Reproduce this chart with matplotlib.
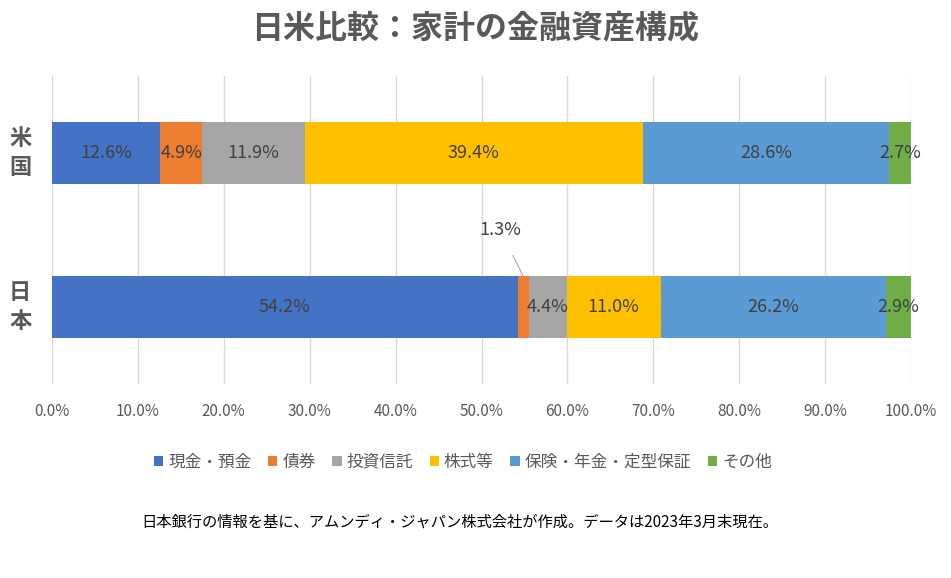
import matplotlib
matplotlib.use("Agg")
import matplotlib.pyplot as plt
from matplotlib.ticker import PercentFormatter, MultipleLocator

plt.rcParams['font.family'] = ['Noto Sans CJK JP', 'DejaVu Sans']

countries = ["米国", "日本"]
series = ["現金・預金", "債券", "投資信託", "株式等", "保険・年金・定型保証", "その他"]
us_values = [12.6, 4.9, 11.9, 39.4, 28.6, 2.7]
jp_values = [54.2, 1.3, 4.4, 11.0, 26.2, 2.9]
colors = ["#4472C4", "#ED7D31", "#A5A5A5", "#FFC000", "#5B9BD5", "#70AD47"]
title = "日米比較：家計の金融資産構成"
footnote = "日本銀行の情報を基に、アムンディ・ジャパン株式会社が作成。データは2023年3月末現在。"

fig = plt.figure(figsize=(9.51, 5.78), dpi=100)
ax = fig.add_axes([52/951, 1-384/578, 859/951, 308/578])

ypos = [0, 1]
data = [us_values, jp_values]
left = [0.0, 0.0]
for i, s in enumerate(series):
    vals = [data[0][i]/100, data[1][i]/100]
    ax.barh(ypos, vals, left=left, height=0.4, color=colors[i], label=s, zorder=3)
    for j in range(2):
        v = vals[j]
        cx = left[j] + v/2
        txt = f"{data[j][i]:.1f}%"
        if j == 1 and i == 1:
            ax.annotate(txt, xy=(cx, ypos[j]-0.2), xytext=(0.522, 0.5),
                        ha='center', va='center', fontsize=13, color='#404040',
                        arrowprops=dict(arrowstyle='-', color='#A6A6A6', lw=0.8,
                                        shrinkA=11, shrinkB=0), zorder=5)
        else:
            ax.text(cx, ypos[j], txt, ha='center', va='center', fontsize=13,
                    color='#404040', zorder=4)
    left = [left[0] + vals[0], left[1] + vals[1]]

ax.set_xlim(0, 1)
ax.set_ylim(1.5, -0.5)
ax.xaxis.set_major_locator(MultipleLocator(0.1))
ax.xaxis.set_major_formatter(PercentFormatter(1.0, decimals=1))
ax.grid(axis='x', color='#D9D9D9', lw=1, zorder=0)
for sp in ax.spines.values():
    sp.set_visible(False)
ax.tick_params(axis='x', length=0, pad=14, labelsize=11, labelcolor='#595959')
ax.set_yticks([])

for j, c in enumerate(countries):
    ax.text(-0.037, ypos[j], "\n".join(c), ha='center', va='center',
            fontsize=16, fontweight='bold', color='#595959', linespacing=1.35,
            transform=ax.get_yaxis_transform())

fig.text(475/951, 1-28/578, title, ha='center', va='center', fontsize=23,
         fontweight='bold', color='#595959')

handles, labels = ax.get_legend_handles_labels()
fig.legend(handles, labels, loc='center', bbox_to_anchor=(463/951, 1-462/578),
           ncol=6, frameon=False, fontsize=12, labelcolor='#595959',
           handlelength=0.55, handleheight=0.55, handletextpad=0.3, columnspacing=1.0)

fig.text(460/951, 1-522/578, footnote, ha='center', va='center', fontsize=11,
         color='#000000')

fig.savefig("out.png", dpi=100)
